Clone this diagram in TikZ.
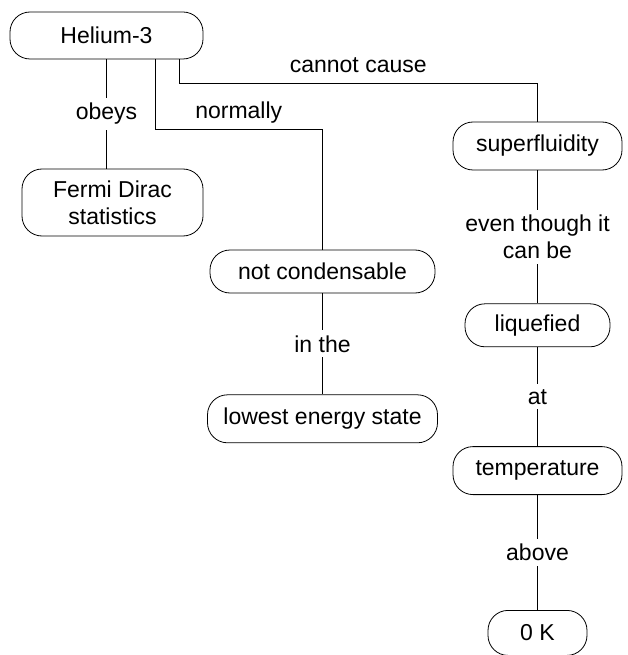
\documentclass[tikz,border=0pt]{standalone}
\usepackage{fontspec}
\setmainfont{Liberation Sans}
\usetikzlibrary{%
    calc,
    positioning
}
\tikzset{concept/.style = {draw, rounded corners=20pt, align=center,
    inner sep=0pt, line width=.8pt}}

\begin{document}
\begin{tikzpicture}[
    x=1pt, y=-1pt, line width=1pt,
    font=\fontsize{23}{27}\selectfont,
    gap/.style = {fill=white, align=center, inner xsep=2pt, inner ysep=5pt},
    over/.style = {anchor=base, yshift=11pt, inner sep=0pt}]
    \useasboundingbox (0,0) rectangle (627,655);

    \node[concept, minimum width=193pt, minimum height=47pt] (hel) at (106.5,35.5) {Helium-3};
    \node[concept, minimum width=181pt, minimum height=67pt] (fermi) at (112.5,202.5) {Fermi Dirac\\statistics};
    \node[concept, minimum width=225pt, minimum height=43pt] (ncond) at (322.5,271.5) {not condensable};
    \node[concept, minimum width=230pt, minimum height=48pt] (lowest) [below=101pt of ncond] {lowest energy state};
    \node[concept, minimum width=169pt, minimum height=48pt] (sup) at (537.5,146) {superfluidity};
    \node[concept, minimum width=145pt, minimum height=43pt] (liq) [below=133pt of sup] {liquefied};
    \node[concept, minimum width=169pt, minimum height=48pt] (temp) [below=99pt of liq] {temperature};
    \node[concept, minimum width=99pt, minimum height=45pt] (zero) [below=115pt of temp] {0 K};

    \coordinate (bendA) at (322.5,130);
    \coordinate (bendB) at (537.5,84);

    \draw (hel.south) to node [gap] {obeys} (hel.south |- fermi.north);
    \draw ($(hel.south) + (48.5pt,0)$) |- node [over, pos=.75] {normally} (bendA) -- (ncond.north);
    \draw ($(hel.south) + (72.5pt,0)$) |- node [over, pos=.75] {cannot cause} (bendB) -- (sup.north);
    \draw (ncond) to node [gap] {in the} (lowest);
    \draw (sup) to node [gap] {even though it\\can be} (liq);
    \draw (liq) to node [gap] {at} (temp);
    \draw (temp) to node [gap] {above} (zero);
\end{tikzpicture}
\end{document}
